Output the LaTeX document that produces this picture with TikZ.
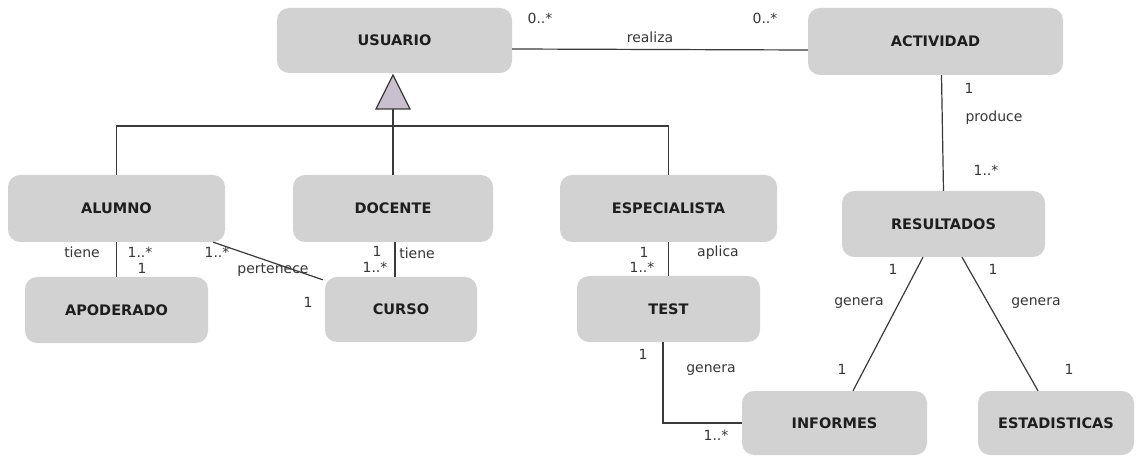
\documentclass[tikz,border=0pt]{standalone}
\usepackage{fontspec}
\setmainfont{DejaVu Sans}
\definecolor{boxgray}{RGB}{210,210,210}
\definecolor{linegray}{RGB}{58,58,58}
\definecolor{trifill}{RGB}{200,192,206}
\definecolor{txt}{RGB}{30,30,30}
\definecolor{lbl}{RGB}{55,55,55}
\tikzset{
  cls/.style={fill=boxgray, rounded corners=12pt, inner sep=0pt, text=txt,
              font=\fontsize{14.5}{16}\selectfont\bfseries},
  rel/.style={draw=linegray, line width=1.2pt},
  lab/.style={inner sep=0pt, text=lbl, font=\fontsize{14}{16}\selectfont},
  tri/.style={draw=linegray, line width=1.2pt, fill=trifill, line join=miter}
}
\begin{document}
\begin{tikzpicture}[x=1pt,y=-1pt]
\useasboundingbox[fill=white] (0,0) rectangle (1136,457);
% classes
\node[cls, minimum width=235pt, minimum height=65pt] (U)  at (394.5,40.5) {USUARIO};
\node[cls, minimum width=255pt, minimum height=67pt] (A)  at (935.5,41.5) {ACTIVIDAD};
\node[cls, minimum width=217pt, minimum height=67pt] (AL) at (116.5,208.5) {ALUMNO};
\node[cls, minimum width=200pt, minimum height=67pt] (D)  at (393,208.5) {DOCENTE};
\node[cls, minimum width=217pt, minimum height=67pt] (ES) at (668.5,208.5) {ESPECIALISTA};
\node[cls, minimum width=183pt, minimum height=66pt] (AP) at (116.5,310) {APODERADO};
\node[cls, minimum width=152pt, minimum height=65pt] (C)  at (401,309.5) {CURSO};
\node[cls, minimum width=183pt, minimum height=66pt] (T)  at (668.5,309) {TEST};
\node[cls, minimum width=203pt, minimum height=66pt] (R)  at (943.5,224) {RESULTADOS};
\node[cls, minimum width=185pt, minimum height=64pt] (I)  at (834.5,423) {INFORMES};
\node[cls, minimum width=156pt, minimum height=64pt] (E)  at (1056,423) {ESTADISTICAS};

% generalization
\coordinate (apex) at (393,75);
\coordinate (gen) at (393,109);
\coordinate (bar) at (393,126);
\draw[rel] (AL.north) |- (bar) -| (ES.north);
\draw[rel] (gen) -- (D.north);
\draw[tri] (apex) -- (376,109) -- (410,109) -- cycle;

% associations
\draw[rel] ([yshift=-8.5pt]U.east) -- ([yshift=-8.5pt]A.west);
\draw[rel] ([xshift=6pt]A.south) -- (R.north);
\draw[rel] (AL.south) -- (AP.north);
\draw[rel] ([xshift=-12pt]AL.south east) -- ([xshift=-2pt,yshift=-3pt]C.north west);
\draw[rel] ([xshift=2pt]D.south) -- ([xshift=-6pt]C.north);
\draw[rel] (ES.south) -- (T.north);
\draw[rel] ([xshift=-5.5pt]T.south) |- (I.west);
\draw[rel] ([xshift=-20.5pt]R.south) -- ([xshift=18.5pt]I.north);
\draw[rel] ([xshift=18.5pt]R.south) -- ([xshift=-18pt]E.north);

% labels
\node[lab] (l1)  at (540,18)  {0..*};
\node[lab] (l2)  at (650,37)  {realiza};
\node[lab] (l3)  at (765,18)  {0..*};
\node[lab] (l4)  at (969,88)  {1};
\node[lab] (l5)  at (994,118) {produce};
\node[lab] (l6)  at (986,170) {1..*};
\node[lab] (l7)  at (82,252)  {tiene};
\node[lab] (l8)  at (140,252) {1..*};
\node[lab] (l9)  at (142,268) {1};
\node[lab] (l10) at (217,252) {1..*};
\node[lab] (l11) at (273,270) {pertenece};
\node[lab] (l12) at (308,302) {1};
\node[lab] (l13) at (377,251) {1};
\node[lab] (l14) at (375,267) {1..*};
\node[lab] (l15) at (417,253) {tiene};
\node[lab] (l16) at (644,252) {1};
\node[lab] (l17) at (642,267) {1..*};
\node[lab] (l18) at (718,253) {aplica};
\node[lab] (l19) at (643,354) {1};
\node[lab] (l20) at (711,370) {genera};
\node[lab] (l21) at (716,435) {1..*};
\node[lab] (l22) at (893,269) {1};
\node[lab] (l23) at (859,303) {genera};
\node[lab] (l24) at (842,369) {1};
\node[lab] (l25) at (993,269) {1};
\node[lab] (l26) at (1036,303) {genera};
\node[lab] (l27) at (1069,369) {1};
\end{tikzpicture}
\end{document}
